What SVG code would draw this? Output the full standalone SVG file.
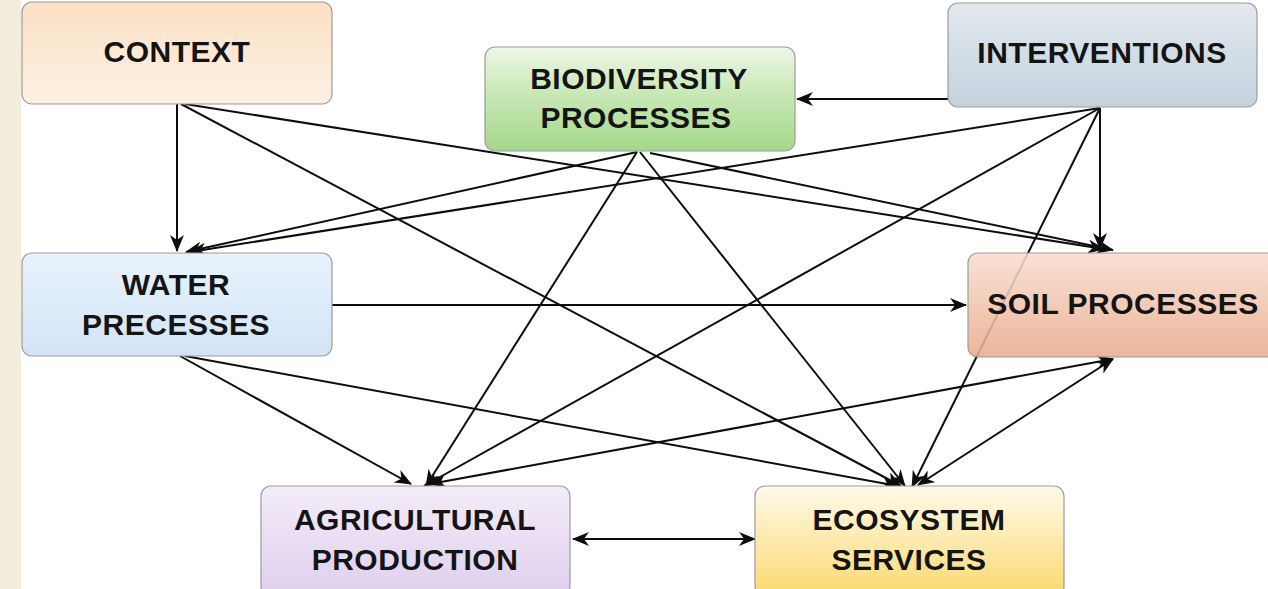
<svg xmlns="http://www.w3.org/2000/svg" width="1268" height="589" viewBox="0 0 1268 589">
<style>
.box{stroke:#9c9c9c;stroke-width:1.2}
.lbl{font-family:"Liberation Sans",Arial,sans-serif;font-weight:bold;font-size:30px;letter-spacing:0.5px;fill:#141414;text-anchor:middle}
.c{stroke:#0d0d0d;stroke-width:2;fill:none;marker-end:url(#ah)}
.b{marker-start:url(#ah)}
</style>
<defs>
<marker id="ah" markerUnits="userSpaceOnUse" markerWidth="18" markerHeight="14" refX="16" refY="7" orient="auto-start-reverse">
<path d="M0,0 L17,7 L0,14 L5,7 Z" fill="#0d0d0d"/>
</marker>
<linearGradient id="gCtx" x1="0" y1="0" x2="0" y2="1"><stop offset="0" stop-color="#fbe0c4"/><stop offset="1" stop-color="#fdf1e4"/></linearGradient>
<linearGradient id="gBio" x1="0" y1="0" x2="0" y2="1"><stop offset="0" stop-color="#eef7e8"/><stop offset="0.45" stop-color="#c8e8b6"/><stop offset="1" stop-color="#a4d88a"/></linearGradient>
<linearGradient id="gInt" x1="0" y1="0" x2="0" y2="1"><stop offset="0" stop-color="#e3e9ef"/><stop offset="1" stop-color="#c4d2de"/></linearGradient>
<linearGradient id="gWat" x1="0" y1="0" x2="0" y2="1"><stop offset="0" stop-color="#e9f2fc"/><stop offset="1" stop-color="#d2e4f6"/></linearGradient>
<linearGradient id="gSoil" x1="0" y1="0" x2="0" y2="1"><stop offset="0" stop-color="#f8ddd0"/><stop offset="1" stop-color="#e9ab8c"/></linearGradient>
<linearGradient id="gAgr" x1="0" y1="0" x2="0" y2="1"><stop offset="0" stop-color="#f3ecf8"/><stop offset="1" stop-color="#dfcfee"/></linearGradient>
<linearGradient id="gEco" x1="0" y1="0" x2="0" y2="1"><stop offset="0" stop-color="#fffaea"/><stop offset="1" stop-color="#fbd96f"/></linearGradient>
</defs>
<rect x="0" y="0" width="1268" height="589" fill="#ffffff"/>
<rect x="0" y="0" width="21" height="589" fill="#f3eddb"/>

<g id="connectors">
<line class="c" x1="177" y1="104" x2="177" y2="251"/>
<line class="c" x1="181" y1="104" x2="901" y2="486"/>
<line class="c" x1="185" y1="104" x2="1104" y2="249"/>
<line class="c" x1="948" y1="99" x2="797" y2="99"/>
<line class="c" x1="1100" y1="108" x2="190" y2="252"/>
<line class="c" x1="1100" y1="108" x2="424" y2="486"/>
<line class="c" x1="1100" y1="108" x2="1100" y2="249"/>
<line class="c" x1="1100" y1="108" x2="912" y2="487"/>
<line class="c" x1="637" y1="152" x2="186" y2="252"/>
<line class="c" x1="637" y1="152" x2="426" y2="486"/>
<line class="c" x1="640" y1="152" x2="905" y2="486"/>
<line class="c" x1="650" y1="153" x2="1113" y2="250"/>
<line class="c" x1="331" y1="305" x2="966" y2="305"/>
<line class="c" x1="180" y1="356" x2="411" y2="484"/>
<line class="c" x1="185" y1="356" x2="898" y2="486"/>
<line class="c b" x1="430" y1="484" x2="1113" y2="359"/>
<line class="c b" x1="918" y1="485" x2="1113" y2="359"/>
<line class="c b" x1="573" y1="539" x2="755" y2="539"/>
</g>

<g id="context">
<rect class="box" x="22" y="2" width="310" height="102" rx="10" fill="url(#gCtx)"/>
<text class="lbl" x="177" y="62">CONTEXT</text>
</g>
<g id="biodiversity">
<rect class="box" x="485" y="47" width="310" height="104" rx="10" fill="url(#gBio)"/>
<text class="lbl" x="639" y="89">BIODIVERSITY</text>
<text class="lbl" x="636" y="128">PROCESSES</text>
</g>
<g id="interventions">
<rect class="box" x="948" y="3" width="309" height="104" rx="10" fill="url(#gInt)"/>
<text class="lbl" x="1102" y="63">INTERVENTIONS</text>
</g>
<g id="water">
<rect class="box" x="22" y="253" width="310" height="103" rx="10" fill="url(#gWat)"/>
<text class="lbl" x="176" y="295">WATER</text>
<text class="lbl" x="176" y="335">PRECESSES</text>
</g>
<g id="soil">
<rect class="box" x="968" y="253" width="310" height="104" rx="10" fill="url(#gSoil)" fill-opacity="0.88"/>
<text class="lbl" x="1123" y="314">SOIL PROCESSES</text>
</g>
<g id="agricultural">
<rect class="box" x="261" y="486" width="309" height="110" rx="10" fill="url(#gAgr)" stroke="#a88bc6"/>
<text class="lbl" x="415" y="530">AGRICULTURAL</text>
<text class="lbl" x="415" y="570">PRODUCTION</text>
</g>
<g id="ecosystem">
<rect class="box" x="755" y="486" width="309" height="110" rx="10" fill="url(#gEco)" stroke="#e6d7a8"/>
<text class="lbl" x="909" y="530">ECOSYSTEM</text>
<text class="lbl" x="909" y="570">SERVICES</text>
</g>
</svg>
